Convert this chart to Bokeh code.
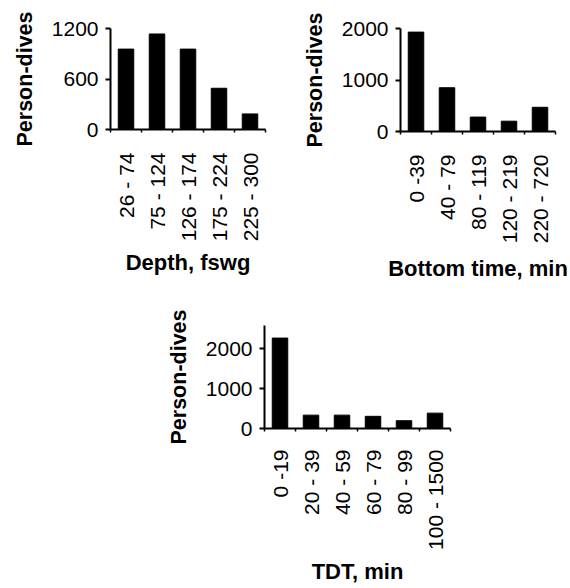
import math
from bokeh.plotting import figure
from bokeh.layouts import column, row
from bokeh.models import Spacer, FixedTicker, Range1d, ColumnDataSource
from bokeh.embed import file_html
from bokeh.resources import INLINE

depth_labels = ["26 - 74", "75 - 124", "126 - 174", "175 - 224", "225 - 300"]
depth_values = [955, 1135, 955, 490, 185]
depth_yticks = [0, 600, 1200]

bottom_labels = ["0 -39", "40 - 79", "80 - 119", "120 - 219", "220 - 720"]
bottom_values = [1930, 850, 280, 200, 470]
bottom_yticks = [0, 1000, 2000]

tdt_labels = ["0 -19", "20 - 39", "40 - 59", "60 - 79", "80 - 99", "100 - 1500"]
tdt_values = [2265, 335, 335, 305, 195, 385]
tdt_yticks = [0, 1000, 2000]

FONT = "Liberation Sans"


def make(labels, values, yticks, ymax, xlabel, left, fw, right, top, fh, bottom,
         tick_standoff, label_standoff):
    n = len(labels)
    xs = [i + 0.5 for i in range(n)]
    p = figure(frame_width=fw, frame_height=fh,
               min_border_left=left, min_border_right=right,
               min_border_top=top, min_border_bottom=bottom,
               x_range=Range1d(0, n), y_range=Range1d(0, ymax),
               output_backend="svg", toolbar_location=None,
               background_fill_color="white", border_fill_color="white")
    p.outline_line_color = None
    p.xgrid.visible = False
    p.ygrid.visible = False
    src = ColumnDataSource(dict(x=xs, top=values))
    p.vbar(x="x", top="top", bottom=0, width=0.5, source=src,
           fill_color="black", line_color="black")

    xa = p.xaxis[0]
    xa.ticker = FixedTicker(ticks=xs, minor_ticks=list(range(n + 1)))
    xa.major_label_overrides = {x: l for x, l in zip(xs, labels)}
    xa.major_label_orientation = math.pi / 2
    xa.major_tick_out = 0
    xa.major_tick_in = 0
    xa.minor_tick_out = 3
    xa.minor_tick_in = 0
    xa.minor_tick_line_width = 1.5
    xa.minor_tick_line_color = "black"
    xa.axis_line_width = 2
    xa.axis_line_color = "black"
    xa.major_label_standoff = tick_standoff
    xa.major_label_text_font = FONT
    xa.major_label_text_font_size = "21px"
    xa.major_label_text_color = "black"
    xa.axis_label = xlabel
    xa.axis_label_text_font = FONT
    xa.axis_label_text_font_style = "bold"
    xa.axis_label_text_font_size = "22px"
    xa.axis_label_text_color = "black"
    xa.axis_label_standoff = label_standoff

    ya = p.yaxis[0]
    ya.ticker = FixedTicker(ticks=yticks, minor_ticks=[])
    ya.major_tick_out = 5
    ya.major_tick_in = 0
    ya.major_tick_line_width = 2
    ya.major_tick_line_color = "black"
    ya.axis_line_width = 2
    ya.axis_line_color = "black"
    ya.major_label_standoff = 7
    ya.major_label_text_font = FONT
    ya.major_label_text_font_size = "21px"
    ya.major_label_text_color = "black"
    ya.major_label_orientation = "horizontal"
    ya.axis_label = "Person-dives"
    ya.axis_label_text_font = FONT
    ya.axis_label_text_font_style = "bold"
    ya.axis_label_text_font_size = "21.5px"
    ya.axis_label_text_color = "black"
    ya.axis_label_standoff = 12
    return p


p1 = make(depth_labels, depth_values, depth_yticks, 1200, "Depth, fswg",
          110, 155, 20, 27, 101, 162, 20, 6)
p2 = make(bottom_labels, bottom_values, bottom_yticks, 2000, "Bottom time, min",
          115, 155, 15, 28, 103, 159, 20, 10)
p3 = make(tdt_labels, tdt_values, tdt_yticks, 2580, "TDT, min",
          114, 186, 120, 35, 103, 160, 18, 6)

layout = column(row(p1, p2), row(Spacer(width=150, height=298), p3))

open("out.html", "w").write(file_html(layout, INLINE))
